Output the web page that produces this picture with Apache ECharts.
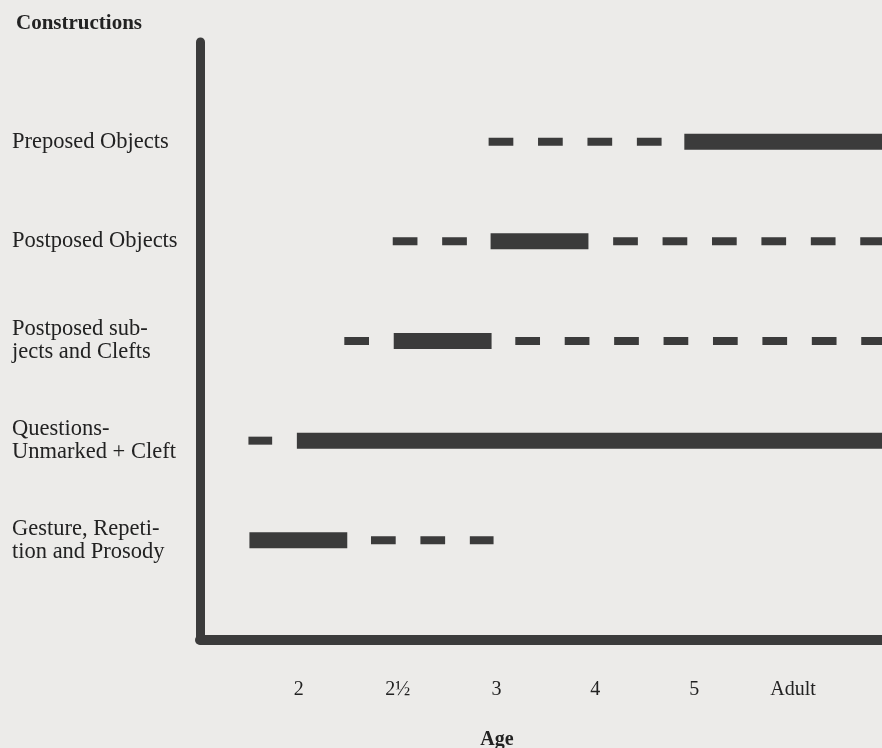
<!DOCTYPE html>
<html>
<head>
<meta charset="utf-8">
<title>Constructions by age</title>
<script src="https://cdn.jsdelivr.net/npm/echarts@6.0.0/dist/echarts.min.js"></script>
<style>
  html, body { margin: 0; padding: 0; background: #ecebe9; }
  #chart { width: 882px; height: 748px; }
</style>
</head>
<body>
<div id="chart"></div>
<script>
// rows, top to bottom
var constructions = [
  'Preposed Objects',
  'Postposed Objects',
  'Postposed sub-\njects and Clefts',
  'Questions-\nUnmarked + Cleft',
  'Gesture, Repeti-\ntion and Prosody'
]
// age steps are evenly spaced on the axis: 0 = 2 ... 5 = Adult
var ageLabels = ['2', '2½', '3', '4', '5', 'Adult']

// [row, from, to] in age steps
var solidRuns = [
  [0, 3.90, 5.90],
  [1, 1.94, 2.93],
  [2, 0.96, 1.95],
  [3, -0.02, 5.90],
  [4, -0.50, 0.49]
]
var dashedRuns = [
  [0, 1.92, 3.67],
  [1, 0.95, 1.70],
  [1, 3.18, 5.90],
  [2, 0.46, 0.71],
  [2, 2.19, 5.90],
  [3, -0.51, -0.27],
  [4, 0.73, 1.97]
]

var ink = '#3b3b3b'
var serif = '"Liberation Serif", "DejaVu Serif", serif'

var chart = echarts.init(document.getElementById('chart'))

chart.setOption({
  backgroundColor: '#ecebe9',
  animation: false,
  title: [
    {
      text: 'Constructions',
      left: 11,
      top: 8,
      textStyle: { fontFamily: serif, fontSize: 21, fontWeight: 'bold', color: '#222' }
    },
    {
      text: 'Age',
      left: 492,
      top: 725,
      textAlign: 'center',
      textStyle: { fontFamily: serif, fontSize: 20, fontWeight: 'bold', color: '#222' }
    }
  ],
  grid: { left: 200, right: 0, top: 42, bottom: 108, outerBoundsMode: 'none' },
  xAxis: {
    type: 'value',
    min: -1,
    max: 5.9,
    axisLine: { show: true, onZero: false, lineStyle: { color: ink, width: 10, cap: 'round' } },
    axisTick: { show: false },
    splitLine: { show: false },
    axisLabel: {
      customValues: [0, 1, 2, 3, 4, 5],
      formatter: function (v) { return ageLabels[Math.round(v)] },
      margin: 40,
      fontFamily: serif,
      fontSize: 20,
      color: '#222'
    }
  },
  yAxis: {
    type: 'value',
    min: -1,
    max: 5,
    inverse: true,
    axisLine: { show: true, onZero: false, lineStyle: { color: ink, width: 9, cap: 'round' } },
    axisTick: { show: false },
    splitLine: { show: false },
    axisLabel: {
      customValues: [0, 1, 2, 3, 4],
      formatter: function (v) { return constructions[Math.round(v)] },
      align: 'left',
      margin: 188,
      lineHeight: 23,
      padding: [6, 0, 0, 0],
      fontFamily: serif,
      fontSize: 22.5,
      color: '#222'
    }
  },
  series: [
    {
      // 实线：已掌握
      type: 'custom',
      data: solidRuns,
      encode: { x: [1, 2], y: 0 },
      renderItem: function (params, api) {
        var a = api.coord([api.value(1), api.value(0)])
        var b = api.coord([api.value(2), api.value(0)])
        var h = 16
        return {
          type: 'rect',
          shape: { x: a[0], y: a[1] - h / 2, width: b[0] - a[0], height: h },
          style: { fill: ink }
        }
      }
    },
    {
      // 虚线：偶尔出现
      type: 'custom',
      data: dashedRuns,
      encode: { x: [1, 2], y: 0 },
      renderItem: function (params, api) {
        var a = api.coord([api.value(1), api.value(0)])
        var b = api.coord([api.value(2), api.value(0)])
        var d = api.size([0.25, 0])[0]
        return {
          type: 'line',
          shape: { x1: a[0], y1: a[1], x2: b[0], y2: b[1] },
          style: { stroke: ink, lineWidth: 8, lineDash: [d, d], lineCap: 'butt' }
        }
      }
    }
  ]
})
</script>
</body>
</html>
